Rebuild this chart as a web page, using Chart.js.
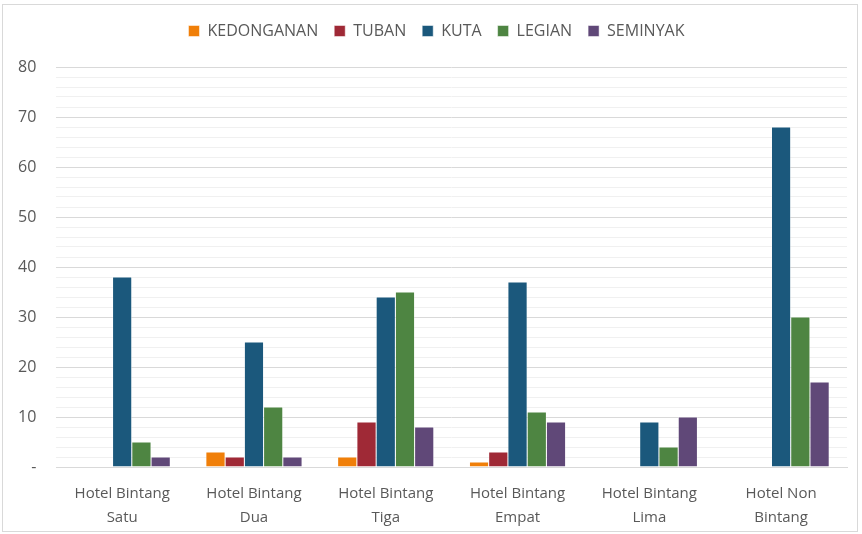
<!DOCTYPE html>
<html>
<head>
<meta charset="utf-8">
<script src="https://cdn.jsdelivr.net/npm/chart.js@4"></script>
<style>
  html, body { margin: 0; padding: 0; background: #fff; }
  #wrap { position: absolute; left: 2px; top: 4px; width: 856px; height: 528px; border: 1px solid #d9d9d9; box-sizing: border-box; }
  canvas { display: block; }
</style>
</head>
<body>
<div id="wrap"><canvas id="chart"></canvas></div>
<script>
// Data
const categories = [['Hotel Bintang', 'Satu'], ['Hotel Bintang', 'Dua'], ['Hotel Bintang', 'Tiga'],
                    ['Hotel Bintang', 'Empat'], ['Hotel Bintang', 'Lima'], ['Hotel Non', 'Bintang']];
const kedonganan = [0, 3, 2, 1, 0, 0];
const tuban      = [0, 2, 9, 3, 0, 0];
const kuta       = [38, 25, 34, 37, 9, 68];
const legian     = [5, 12, 35, 11, 4, 30];
const seminyak   = [2, 2, 8, 9, 10, 17];

const font = "'Open Sans', 'Liberation Sans', sans-serif";

function ds(label, data, color) {
    return { label: label, data: data, backgroundColor: color, borderColor: '#ffffff', borderWidth: 0.5 };
}

// extra gap under the legend, and nudge it a bit to the right
const legendGap = {
    id: 'legendGap',
    beforeInit(chart) {
        const fit = chart.legend.fit;
        chart.legend.fit = function () {
            fit.bind(chart.legend)();
            this.height += 18;
        };
    },
    afterLayout(chart) {
        chart.legend.left += 14;
        chart.legend.right += 14;
    }
};

new Chart(document.getElementById('chart'), {
    type: 'bar',
    data: {
        labels: categories,
        datasets: [
            ds('KEDONGANAN', kedonganan, '#F07F09'),
            ds('TUBAN', tuban, '#9F2936'),
            ds('KUTA', kuta, '#1B587C'),
            ds('LEGIAN', legian, '#4E8542'),
            ds('SEMINYAK', seminyak, '#604878')
        ]
    },
    options: {
        responsive: true,
        maintainAspectRatio: false,
        animation: false,
        layout: { padding: { left: -5, right: 10, top: 2, bottom: -6 } },
        datasets: { bar: { categoryPercentage: 0.73, barPercentage: 1 } },
        scales: {
            x: {
                grid: { display: false },
                border: { color: '#d9d9d9' },
                ticks: { color: '#595959', font: { family: font, size: 15, lineHeight: 1.6 }, padding: 7, maxRotation: 0 }
            },
            y: {
                min: 0, max: 80,
                border: { display: false },
                grid: {
                    color: ctx => ctx.tick.value % 10 === 0 ? '#d9d9d9' : '#f0f0f0',
                    drawTicks: false
                },
                ticks: {
                    stepSize: 2,
                    autoSkip: false,
                    padding: 20,
                    color: '#595959',
                    font: { family: font, size: 16 },
                    callback: v => v === 0 ? '-' : (v % 10 === 0 ? v : '')
                }
            }
        },
        plugins: {
            legend: {
                position: 'top',
                labels: { color: '#595959', font: { family: font, size: 16 }, boxWidth: 11, boxHeight: 11, padding: 16 }
            },
            tooltip: { enabled: false }
        }
    },
    plugins: [legendGap]
});
</script>
</body>
</html>
